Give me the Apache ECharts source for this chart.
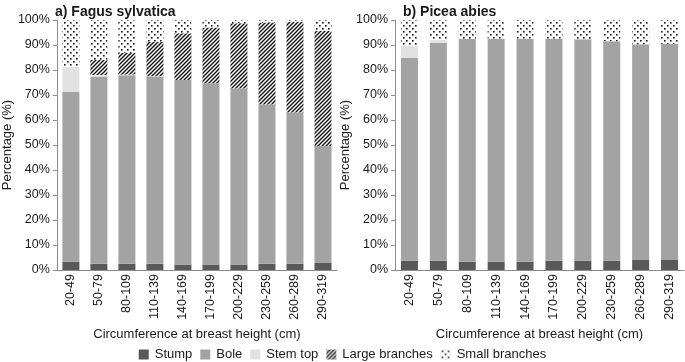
<!DOCTYPE html>
<html>
<head>
<meta charset="utf-8">
<script src="https://cdn.jsdelivr.net/npm/echarts@6/dist/echarts.min.js"></script>
<style>
  html, body { margin: 0; padding: 0; background: #fff; }
  #main { width: 685px; height: 362px; }
</style>
</head>
<body>
<div id="main"></div>
<script>
const categories = ['20-49', '50-79', '80-109', '110-139', '140-169', '170-199', '200-229', '230-259', '260-289', '290-319']
const yTicks = [0, 10, 20, 30, 40, 50, 60, 70, 80, 90, 100]
const partNames = ['Stump', 'Bole', 'Stem top', 'Large branches', 'Small branches']

// a) Fagus sylvatica (%)
const fagusStump = [3.3, 2.5, 2.5, 2.5, 2.2, 2.2, 2.2, 2.5, 2.5, 2.8]
const fagusBole = [68.0, 74.7, 75.4, 74.8, 73.8, 72.5, 70.5, 63.8, 60.6, 46.8]
const fagusStemTop = [10.0, 0.8, 0.3, 0.2, 0, 0, 0, 0, 0, 0]
const fagusLarge = [0, 6.0, 8.7, 13.8, 18.7, 22.3, 26.0, 32.7, 36.2, 46.0]
const fagusSmall = [18.7, 16.0, 13.1, 8.7, 5.3, 3.0, 1.3, 1.0, 0.7, 4.4]

// b) Picea abies (%)
const piceaStump = [3.7, 3.7, 3.3, 3.3, 3.3, 3.7, 3.7, 3.7, 4.0, 4.0]
const piceaBole = [81.2, 87.2, 89.1, 89.2, 89.2, 88.8, 88.6, 87.8, 86.3, 86.5]
const piceaStemTop = [4.7, 1.1, 0, 0, 0, 0, 0, 0, 0, 0]
const piceaLarge = [0, 0, 0, 0, 0, 0, 0, 0, 0, 0]
const piceaSmall = [10.4, 8.0, 7.6, 7.5, 7.5, 7.5, 7.7, 8.5, 9.7, 9.5]

// fill patterns
function hatchPattern() {
  const c = document.createElement('canvas')
  c.width = 4
  c.height = 4
  const ctx = c.getContext('2d')
  ctx.fillStyle = '#fff'
  ctx.fillRect(0, 0, 4, 4)
  ctx.strokeStyle = '#111'
  ctx.lineWidth = 1.4
  ctx.beginPath()
  ctx.moveTo(-1, 5); ctx.lineTo(5, -1)
  ctx.moveTo(-3, 3); ctx.lineTo(3, -3)
  ctx.moveTo(1, 7); ctx.lineTo(7, 1)
  ctx.stroke()
  return { image: c, repeat: 'repeat' }
}
function dotPattern() {
  const c = document.createElement('canvas')
  c.width = 6
  c.height = 6
  const ctx = c.getContext('2d')
  ctx.fillStyle = '#fff'
  ctx.fillRect(0, 0, 6, 6)
  ctx.fillStyle = '#111'
  ctx.fillRect(1, 1, 1.6, 1.6)
  ctx.fillRect(4, 4, 1.6, 1.6)
  return { image: c, repeat: 'repeat' }
}

const fills = ['#595959', '#a3a3a3', '#e2e2e2', hatchPattern(), dotPattern()]
const textColor = '#1a1a1a'
const axisColor = '#8c8c8c'
const font = 'Liberation Sans'

let myChart = echarts.init(document.getElementById('main'), null, { renderer: 'canvas' })

function makeSeries(idx, stack, arrays) {
  return arrays.map((arr, i) => ({
    name: partNames[i],
    type: 'bar',
    stack: stack,
    xAxisIndex: idx,
    yAxisIndex: idx,
    barWidth: 17,
    itemStyle: { color: fills[i] },
    emphasis: { disabled: true },
    data: arr,
  }))
}

function xAxisOf(idx) {
  return {
    type: 'category',
    gridIndex: idx,
    data: categories,
    name: 'Circumference at breast height (cm)',
    nameLocation: 'middle',
    nameGap: 49,
    nameTextStyle: { color: textColor, fontSize: 13, fontFamily: font },
    axisLine: { lineStyle: { color: axisColor } },
    axisTick: { length: 5, lineStyle: { color: axisColor } },
    axisLabel: { rotate: 90, color: textColor, fontSize: 12.5, fontFamily: font, margin: 4 },
  }
}

function yAxisOf(idx) {
  return {
    type: 'value',
    gridIndex: idx,
    min: yTicks[0],
    max: yTicks[yTicks.length - 1],
    interval: 10,
    name: 'Percentage (%)',
    nameLocation: 'middle',
    nameGap: 37,
    nameTextStyle: { color: textColor, fontSize: 13, fontFamily: font },
    axisLine: { show: true, lineStyle: { color: axisColor } },
    axisTick: { show: true, length: 4, lineStyle: { color: axisColor } },
    splitLine: { show: false },
    axisLabel: { formatter: '{value}%', color: textColor, fontSize: 12.5, fontFamily: font, margin: 7 },
  }
}

const option = {
  animation: false,
  backgroundColor: '#fff',
  title: [
    { text: 'a) Fagus sylvatica', left: 50, top: 0, textStyle: { fontSize: 14, fontWeight: 'bold', color: textColor, fontFamily: font } },
    { text: 'b) Picea abies', left: 398, top: 0, textStyle: { fontSize: 14, fontWeight: 'bold', color: textColor, fontFamily: font } },
  ],
  legend: {
    data: partNames,
    bottom: -4,
    left: 'center',
    itemWidth: 10,
    itemHeight: 10,
    itemGap: 8,
    icon: 'rect',
    textStyle: { color: textColor, fontSize: 13, fontFamily: font, padding: [0, 0, 0, 1] },
  },
  grid: [
    { left: 48, top: 20, width: 289, height: 250 },
    { left: 395, top: 20, width: 289, height: 250 },
  ],
  xAxis: [xAxisOf(0), xAxisOf(1)],
  yAxis: [yAxisOf(0), yAxisOf(1)],
  series: [
    ...makeSeries(0, 'fagus', [fagusStump, fagusBole, fagusStemTop, fagusLarge, fagusSmall]),
    ...makeSeries(1, 'picea', [piceaStump, piceaBole, piceaStemTop, piceaLarge, piceaSmall]),
  ],
}

myChart.setOption(option)
window.addEventListener('resize', function () {
  myChart.resize()
})
</script>
</body>
</html>
